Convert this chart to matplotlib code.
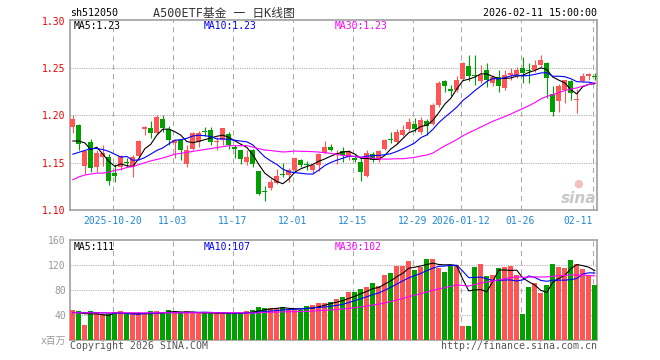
import matplotlib
matplotlib.use('Agg')
import matplotlib.pyplot as plt
import numpy as np
import pandas as pd

# ---------------- data ----------------
opens = [1.188, 1.190, 1.147, 1.172, 1.146, 1.156, 1.156, 1.139, 1.145, 1.151,
         1.146, 1.157, 1.186, 1.187, 1.181, 1.196, 1.186, 1.171, 1.174, 1.149,
         1.165, 1.172, 1.184, 1.185, 1.172, 1.174, 1.180, 1.167, 1.163, 1.151,
         1.163, 1.141, 1.120, 1.123, 1.129, 1.138, 1.137, 1.142, 1.153, 1.149,
         1.142, 1.148, 1.160, 1.167, 1.159, 1.162, 1.156, 1.155, 1.151, 1.136,
         1.159, 1.153, 1.165, 1.175, 1.172, 1.179, 1.186, 1.191, 1.183, 1.194,
         1.191, 1.211, 1.236, 1.228, 1.227, 1.239, 1.252, 1.243, 1.236, 1.248,
         1.234, 1.241, 1.229, 1.243, 1.243, 1.250, 1.248, 1.248, 1.253, 1.255,
         1.223, 1.215, 1.227, 1.236, 1.216, 1.236, 1.242, 1.242]
highs = [1.200, 1.191, 1.164, 1.175, 1.164, 1.169, 1.159, 1.149, 1.158, 1.155,
         1.158, 1.174, 1.189, 1.194, 1.200, 1.201, 1.189, 1.175, 1.174, 1.169,
         1.182, 1.184, 1.188, 1.188, 1.177, 1.187, 1.182, 1.169, 1.164, 1.164,
         1.165, 1.141, 1.125, 1.133, 1.143, 1.150, 1.144, 1.155, 1.154, 1.152,
         1.149, 1.160, 1.173, 1.170, 1.163, 1.167, 1.163, 1.158, 1.155, 1.163,
         1.161, 1.163, 1.175, 1.183, 1.186, 1.190, 1.197, 1.197, 1.198, 1.196,
         1.213, 1.236, 1.238, 1.232, 1.242, 1.257, 1.264, 1.264, 1.253, 1.255,
         1.243, 1.248, 1.248, 1.250, 1.251, 1.262, 1.256, 1.259, 1.264, 1.257,
         1.231, 1.233, 1.238, 1.238, 1.228, 1.245, 1.245, 1.245]
lows = [1.181, 1.164, 1.138, 1.140, 1.140, 1.147, 1.126, 1.130, 1.142, 1.146,
        1.135, 1.155, 1.179, 1.176, 1.180, 1.183, 1.169, 1.155, 1.153, 1.145,
        1.163, 1.167, 1.178, 1.169, 1.163, 1.169, 1.165, 1.155, 1.149, 1.148,
        1.146, 1.116, 1.110, 1.121, 1.127, 1.135, 1.130, 1.140, 1.146, 1.142,
        1.139, 1.141, 1.160, 1.162, 1.149, 1.151, 1.153, 1.151, 1.131, 1.135,
        1.151, 1.151, 1.163, 1.171, 1.170, 1.178, 1.184, 1.183, 1.180, 1.179,
        1.190, 1.209, 1.225, 1.221, 1.225, 1.238, 1.236, 1.232, 1.234, 1.230,
        1.231, 1.225, 1.227, 1.238, 1.240, 1.234, 1.234, 1.246, 1.251, 1.219,
        1.199, 1.204, 1.213, 1.216, 1.203, 1.235, 1.238, 1.238]
closes = [1.196, 1.170, 1.162, 1.144, 1.160, 1.160, 1.131, 1.136, 1.157, 1.150,
          1.156, 1.173, 1.188, 1.181, 1.198, 1.187, 1.174, 1.174, 1.163, 1.164,
          1.181, 1.181, 1.183, 1.172, 1.173, 1.187, 1.169, 1.165, 1.154, 1.156,
          1.149, 1.117, 1.119, 1.130, 1.136, 1.137, 1.142, 1.155, 1.148, 1.148,
          1.148, 1.159, 1.167, 1.163, 1.160, 1.158, 1.162, 1.153, 1.140, 1.160,
          1.153, 1.162, 1.174, 1.174, 1.183, 1.185, 1.193, 1.186, 1.195, 1.189,
          1.211, 1.234, 1.231, 1.226, 1.238, 1.255, 1.242, 1.242, 1.243, 1.238,
          1.241, 1.231, 1.243, 1.245, 1.248, 1.245, 1.247, 1.253, 1.259, 1.240,
          1.204, 1.231, 1.238, 1.224, 1.217, 1.242, 1.244, 1.241]
volumes = [48, 46.4, 24, 46.4, 44.3, 41, 41, 44.3, 46.4, 41,
           41, 41, 41, 46.4, 46.4, 42.7, 48, 44.3, 42.7, 46.4,
           42.7, 42.7, 42.7, 42.7, 42.7, 42.7, 42.7, 42.7, 42.7, 46.4,
           48, 53.3, 50.7, 50.7, 50.7, 53.3, 48, 48, 48, 55,
           56, 59.7, 59.7, 61.3, 65.6, 69.3, 76.8, 76.8, 81.6, 84.8,
           91.2, 85.9, 104, 107.2, 118.4, 118.4, 126.4, 112, 117.3, 129.6,
           129.6, 115.7, 108.8, 118.9, 120, 22.4, 22.4, 116.8, 121.6, 102.4,
           104, 115.2, 116.8, 118.4, 104, 41.6, 84.8, 91.2, 75.2, 88,
           121.6, 116.8, 115.2, 128, 121.6, 113.6, 104, 88]

# moving-average values read where the window reaches before the first shown day
ma5_head = [1.173, 1.173, 1.171, 1.164]
ma10_head = [1.159, 1.161, 1.163, 1.165, 1.165, 1.164, 1.162, 1.159, 1.156]
ma30_head = [1.132, 1.135, 1.137, 1.138, 1.139, 1.139, 1.140, 1.142, 1.143, 1.145,
             1.146, 1.148, 1.150, 1.152, 1.1535, 1.155, 1.157, 1.159, 1.160, 1.161,
             1.162, 1.163, 1.164, 1.165, 1.166, 1.167, 1.168, 1.168, 1.168]
vma5_head = [44, 44, 42, 42]
vma10_head = [44, 44, 44, 44, 44, 43.5, 43, 43, 43]
vma30_head = [43.5, 43.5, 43.5, 43.5, 43.5, 43.5, 43.5, 43.5, 43.5, 43.5,
              43.5, 43.5, 43.5, 43.5, 43.5, 43.5, 43.5, 43.5, 43.5, 43.5,
              43.5, 43.5, 43.5, 43.5, 43.5, 43.5, 43.5, 43.5, 43.5]

tick_idx = [7, 17, 27, 37, 47, 57, 65, 75, 87]
tick_labels = ['2025-10-20', '11-03', '11-17', '12-01', '12-15', '12-29',
               '2026-01-12', '01-26', '02-11']
price_ticks = [1.10, 1.15, 1.20, 1.25, 1.30]
vol_ticks = [40, 80, 120, 160]

# ---------------- figure ----------------
W, H = 660, 360
fig = plt.figure(figsize=(6.6, 3.6), dpi=100)
fig.patch.set_facecolor('white')


def fx(px):
    return px / W


def fy(py):
    return 1 - py / H


L, R = 70, 597
ax = fig.add_axes([fx(L), fy(210), (R - L) / W, 190 / H])
axv = fig.add_axes([fx(L), fy(340), (R - L) / W, 100 / H])

UP = '#ff5555'
DN = '#00a000'
GRID = '#aaaaaa'
FRAME = '#a0a0a0'
MONO = 'DejaVu Sans Mono'

o = np.array(opens)
h = np.array(highs)
lo = np.array(lows)
c = np.array(closes)
v = np.array(volumes)
x = np.arange(len(c))
cols = [UP if cc >= oo else DN for oo, cc in zip(o, c)]


def ma(arr, n, head):
    m = pd.Series(arr).rolling(n).mean().to_numpy()
    m[:n - 1] = head
    return m


ma5 = ma(c, 5, ma5_head)
ma10 = ma(c, 10, ma10_head)
ma30 = ma(c, 30, ma30_head)
vma5 = ma(v, 5, vma5_head)
vma10 = ma(v, 10, vma10_head)
vma30 = ma(v, 30, vma30_head)

xlim = (-0.47, 87.37)
grid_x = [t - 0.38 for t in tick_idx]

# --- price panel ---
for a in (ax, axv):
    a.set_xlim(*xlim)
    for s in a.spines.values():
        s.set_color(FRAME)
        s.set_linewidth(1.2)
    for gx in grid_x:
        a.axvline(gx, color=GRID, lw=0.75, ls=(0, (5, 4)), zorder=0)

ax.set_ylim(1.10, 1.301)
for gy in [1.15, 1.20, 1.25]:
    ax.axhline(gy, color=GRID, lw=0.75, ls=(0, (1, 1.2)), zorder=0)

ax.vlines(x, lo, h, colors=cols, lw=0.8, zorder=2)
body_h = np.maximum(np.abs(c - o), 0.0011)
ax.bar(x, body_h, bottom=np.minimum(o, c), width=0.82, color=cols, lw=0, zorder=3)
ax.plot(x, ma5, color='black', lw=0.8, zorder=4)
ax.plot(x, ma10, color='#0000ff', lw=0.8, zorder=4)
ax.plot(x, ma30, color='#ff00ff', lw=0.8, zorder=4)

ax.set_yticks(price_ticks)
ax.set_yticklabels(['%.2f' % t for t in price_ticks], color='#ee0000',
                   fontsize=7, family=MONO)
ax.tick_params(axis='y', length=0, pad=3)
ax.set_xticks(grid_x)
ax.set_xticklabels(tick_labels, color='#1e88d8', fontsize=7, family=MONO)
ax.tick_params(axis='x', length=0, pad=4)
ax.get_xticklabels()[-1].set_ha('right')

# --- volume panel ---
axv.set_ylim(0, 160)
for gy in [40, 80, 120]:
    axv.axhline(gy, color=GRID, lw=0.75, ls=(0, (1, 1.2)), zorder=0)
axv.bar(x, v, width=0.82, color=cols, lw=0, zorder=3)
axv.plot(x, vma5, color='black', lw=0.8, zorder=4)
axv.plot(x, vma10, color='#0000ff', lw=0.8, zorder=4)
axv.plot(x, vma30, color='#ff00ff', lw=0.8, zorder=4)
axv.set_yticks([0] + vol_ticks)
axv.set_yticklabels(['x百万'] + [str(t) for t in vol_ticks], color='#999999',
                    fontsize=7, family=[MONO, 'Noto Sans CJK SC'])
axv.tick_params(axis='y', length=0, pad=3)
axv.set_xticks([])

# --- texts ---
fig.text(fx(70), fy(13), 'sh512050', fontsize=7.2, family=MONO, color='black',
         va='center', ha='left')
fig.text(fx(224), fy(13), 'A500ETF基金 一 日K线图', fontsize=8.5,
         family=[MONO, 'Noto Sans CJK SC'], color='#333333', va='center', ha='center')
fig.text(fx(597), fy(13), '2026-02-11 15:00:00', fontsize=7.2, family=MONO,
         color='black', va='center', ha='right')

fig.text(fx(74), fy(26), 'MA5:1.23', fontsize=7, family=MONO, color='black', va='center')
fig.text(fx(204), fy(26), 'MA10:1.23', fontsize=7, family=MONO, color='#0000ff', va='center')
fig.text(fx(335), fy(26), 'MA30:1.23', fontsize=7, family=MONO, color='#ff00ff', va='center')

fig.text(fx(74), fy(247), 'MA5:111', fontsize=7, family=MONO, color='black', va='center')
fig.text(fx(204), fy(247), 'MA10:107', fontsize=7, family=MONO, color='#0000ff', va='center')
fig.text(fx(335), fy(247), 'MA30:102', fontsize=7, family=MONO, color='#ff00ff', va='center')

fig.text(fx(70), fy(346), 'Copyright 2026 SINA.COM', fontsize=7.1, family=MONO,
         color='#555555', va='center', ha='left')
fig.text(fx(597), fy(346), 'http://finance.sina.com.cn', fontsize=7.1, family=MONO,
         color='#555555', va='center', ha='right')

# sina watermark
fig.text(fx(596), fy(198), 'sina', fontsize=11, fontweight='bold', style='italic',
         color='#c8c8c8', va='center', ha='right', family='DejaVu Sans')
fig.text(fx(578), fy(184), '●', fontsize=8, color='#f2c0c0', va='center', ha='center',
         family='DejaVu Sans')

fig.savefig('out.png', dpi=100, facecolor='white')
